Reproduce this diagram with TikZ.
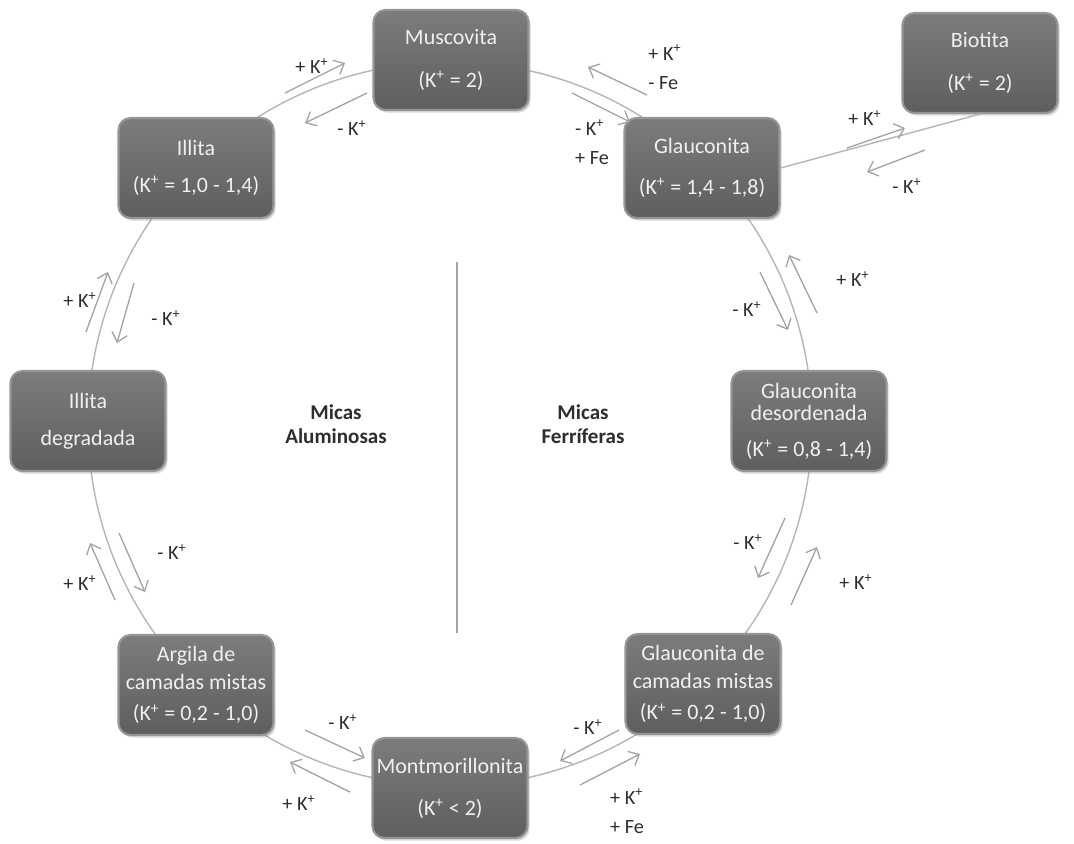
\documentclass[tikz,border=0pt]{standalone}
\usepackage{fontspec}
\setmainfont{Carlito}
\usepackage{tikz}
\usetikzlibrary{arrows.meta,shadows}
\definecolor{boxtop}{HTML}{7C7C7C}
\definecolor{boxbot}{HTML}{5E5E5E}
\definecolor{boxrim}{HTML}{959595}
\definecolor{ringgray}{HTML}{B5B5B5}
\definecolor{arrgray}{HTML}{A3A3A3}
\definecolor{txtdark}{HTML}{2E2E2E}
\tikzstyle{mineral}=[rectangle, rounded corners=0.24cm, minimum width=3.1cm, minimum height=2cm,
  inner sep=1pt, top color=boxtop, bottom color=boxbot, draw=boxrim, line width=1.2pt,
  drop shadow={opacity=0.3, shadow xshift=1.2pt, shadow yshift=-1.5pt},
  text=white!94!black, align=center, font=\fontsize{12.5pt}{14pt}\selectfont]
\tikzstyle{ring}=[draw=ringgray, line width=0.8pt]
\tikzstyle{rxn}=[draw=arrgray, line width=0.75pt, -{Straight Barb[length=5pt,width=9pt]}]
\tikzstyle{lbl}=[text=txtdark, align=left, inner sep=0pt, font=\fontsize{11.5pt}{13.5pt}\selectfont]
\tikzstyle{group}=[text=txtdark, align=center, font=\fontsize{12pt}{13.5pt}\selectfont\bfseries]
\newcommand{\kion}{K\textsuperscript{+}}

\begin{document}
\begin{tikzpicture}[x=0.02cm,y=-0.02cm]
\useasboundingbox (0,0) rectangle (1074,843);
\coordinate (ctr) at (450,424);
\draw[ring] (ctr) circle [radius=362];
\draw[ring, draw=arrgray] (457,262) -- (457,633);

% minerals on the cycle
\node[mineral] (musc) at (451,60) {Muscovita\\[10pt](\kion{} = 2)};
\node[mineral] (illi) at (196,168) {Illita\\[7pt](\kion{} = 1,0 - 1,4)};
\node[mineral] (glau) at (702,168) {Glauconita\\[9pt](\kion{} = 1,4 - 1,8)};
\node[mineral] (ildg) at (88,421) {Illita\\[7pt]degradada};
\node[mineral] (glds) at (809,421) {Glauconita\\[-1pt]desordenada\\[6pt](\kion{} = 0,8 - 1,4)};
\node[mineral] (argi) at (196,685) {Argila de\\[2pt]camadas mistas\\[4pt](\kion{} = 0,2 - 1,0)};
\node[mineral] (glcm) at (703,684) {Glauconita de\\[2pt]camadas mistas\\[4pt](\kion{} = 0,2 - 1,0)};
\node[mineral] (mont) at (450,788) {Montmorillonita\\[10pt](\kion{} {\textless} 2)};
\node[mineral] (bio) at (980,63) {Biotita\\[10pt](\kion{} = 2)};
\draw[ring] (glau.east) -- (bio.south);

% exchange arrows
\foreach \n/\xa/\ya/\xb/\yb in {1/285/93/345/63, 2/367/93/305/123, 3/647/95/588/67, 4/572/93/630/122,
  5/847/148/905/128, 6/925/150/867/172, 7/817/313/789/255, 8/760/272/788/330,
  9/785/518/758/578, 10/791/605/817/547, 11/619/730/560/761, 12/580/785/640/754,
  13/305/730/365/758, 14/350/792/290/762, 15/115/600/90/543, 16/119/533/145/592,
  17/86/332/108/272, 18/134/283/117/343} {
  \coordinate (s\n) at (\xa,\ya);
  \coordinate (e\n) at (\xb,\yb);
  \draw[rxn] (s\n) -- (e\n);
}

% labels
\node[lbl] (l1) at (312,66) {+ \kion};
\node[lbl] (l2) at (352,128) {- \kion};
\node[lbl] (l3) at (665,67) {+ \kion\\[3pt]- Fe};
\node[lbl] (l4) at (592,142) {- \kion\\[3pt]+ Fe};
\node[lbl] (l5) at (865,118) {+ \kion};
\node[lbl] (l6) at (907,186) {- \kion};
\node[lbl] (l7) at (853,279) {+ \kion};
\node[lbl] (l8) at (747,309) {- \kion};
\node[lbl] (l9) at (748,542) {- \kion};
\node[lbl] (l10) at (856,582) {+ \kion};
\node[lbl] (l11) at (588,727) {- \kion};
\node[lbl] (l12) at (627,811) {+ \kion\\[3pt]+ Fe};
\node[lbl] (l13) at (343,722) {- \kion};
\node[lbl] (l14) at (299,803) {+ \kion};
\node[lbl] (l15) at (80,583) {+ \kion};
\node[lbl] (l16) at (172,552) {- \kion};
\node[lbl] (l17) at (80,300) {+ \kion};
\node[lbl] (l18) at (166,318) {- \kion};

\node[group] (alum) at (336,424) {Micas\\Aluminosas};
\node[group] (ferr) at (583,424) {Micas\\Ferríferas};
\end{tikzpicture}
\end{document}
